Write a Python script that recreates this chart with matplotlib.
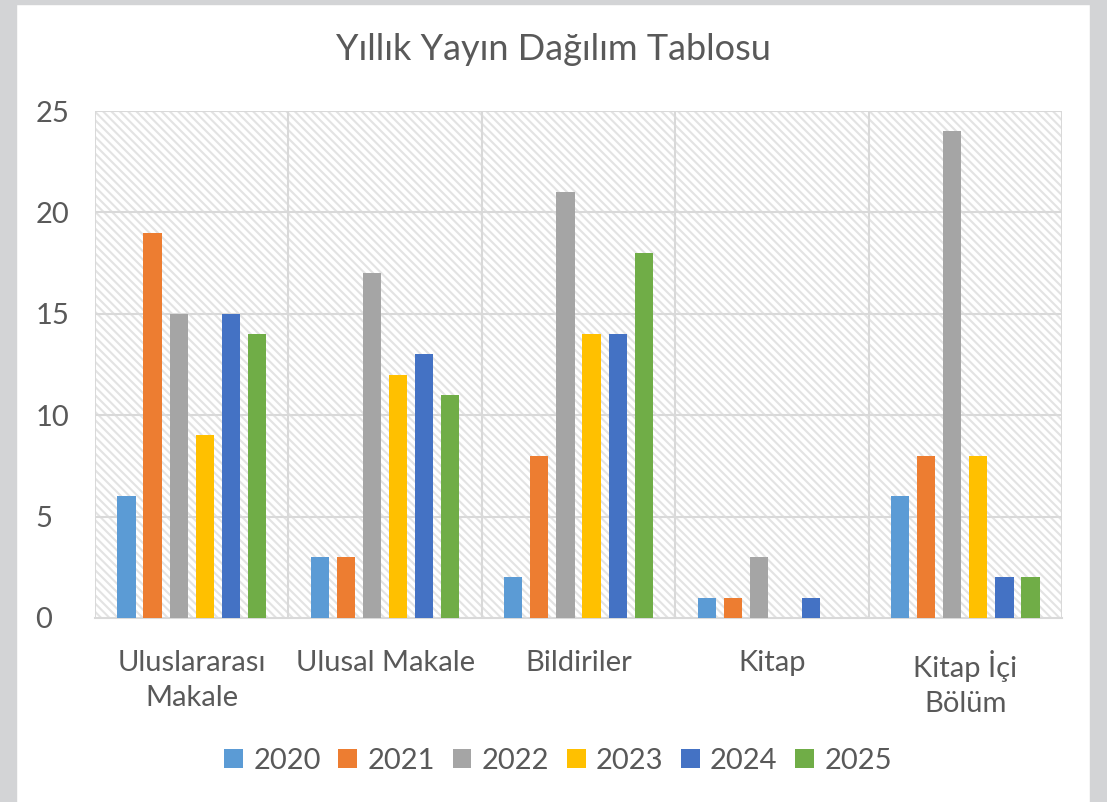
import numpy as np
import matplotlib.pyplot as plt
from matplotlib.patches import Rectangle

plt.rcParams['font.family'] = ['Lato', 'DejaVu Sans']
plt.rcParams['hatch.linewidth'] = 1.5

# data
categories = ['Uluslararası\nMakale', 'Ulusal Makale', 'Bildiriler', 'Kitap', 'Kitap İçi\nBölüm']
years = ['2020', '2021', '2022', '2023', '2024', '2025']
v2020 = [6, 3, 2, 1, 6]
v2021 = [19, 3, 8, 1, 8]
v2022 = [15, 17, 21, 3, 24]
v2023 = [9, 12, 14, 0, 8]
v2024 = [15, 13, 14, 1, 2]
v2025 = [14, 11, 18, 0, 2]
series = [v2020, v2021, v2022, v2023, v2024, v2025]
colors = ['#5B9BD5', '#ED7D31', '#A5A5A5', '#FFC000', '#4472C4', '#70AD47']

txt = '#595959'
grid = '#D9D9D9'

fig = plt.figure(figsize=(11.07, 8.02), dpi=100)
fig.patch.set_facecolor('white')
# gray frame around the chart
fig.patches.append(Rectangle((0, 0), 16 / 1107, 1, transform=fig.transFigure, color='#D3D4D6', zorder=-1))
fig.patches.append(Rectangle((1090 / 1107, 0), 17 / 1107, 1, transform=fig.transFigure, color='#D3D4D6', zorder=-1))
fig.patches.append(Rectangle((0, 1 - 4 / 802), 1, 4 / 802, transform=fig.transFigure, color='#D3D4D6', zorder=-1))

ax = fig.add_axes([95 / 1107, 1 - 618 / 802, 967 / 1107, 507 / 802])
ax.set_facecolor('white')
ax.add_patch(Rectangle((0, 0), 1, 1, transform=ax.transAxes, facecolor='white',
                       edgecolor='#E3E3E3', hatch='\\\\\\\\', linewidth=0, zorder=0))

x = np.arange(len(categories))
step = 0.135
w = 0.094
for i, (vals, c, yr) in enumerate(zip(series, colors, years)):
    ax.bar(x + (i - 2.5) * step, vals, width=w, color=c, label=yr, zorder=3)

ax.set_xlim(-0.5, len(categories) - 0.5)
ax.set_ylim(0, 25)
ax.set_yticks(range(0, 26, 5))
for yv in range(5, 26, 5):
    ax.axhline(yv, color=grid, linewidth=1.5, zorder=1)
for xv in np.arange(0.5, len(categories) - 0.5, 1):
    ax.axvline(xv, color=grid, linewidth=1.5, zorder=1)
ax.axvline(-0.5, color=grid, linewidth=1.5, zorder=1)
ax.axvline(len(categories) - 0.5, color=grid, linewidth=1.5, zorder=1)

for s in ['top', 'right', 'left']:
    ax.spines[s].set_visible(False)
ax.spines['bottom'].set_color(grid)
ax.spines['bottom'].set_linewidth(1.5)

ax.set_xticks(x)
ax.set_xticklabels(categories, fontsize=21, color=txt, linespacing=1.45)
ax.tick_params(axis='both', length=0, labelsize=21, labelcolor=txt)
ax.tick_params(axis='x', pad=23)
ax.tick_params(axis='y', pad=43)
for lab in ax.get_yticklabels():
    lab.set_horizontalalignment('left')

fig.text(553 / 1107, 1 - 50 / 802, 'Yıllık Yayın Dağılım Tablosu', ha='center', va='center',
         fontsize=26, color=txt)

leg = fig.legend(loc='center', bbox_to_anchor=(558 / 1107, 1 - 761 / 802), ncol=6, frameon=False,
                 fontsize=21, handlelength=0.65, handleheight=0.65, handletextpad=0.35,
                 columnspacing=0.6)
for t in leg.get_texts():
    t.set_color(txt)

fig.savefig('out.png', dpi=100)
